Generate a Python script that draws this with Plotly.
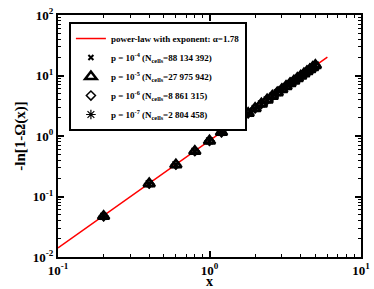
import plotly.graph_objects as go

# data
x_vals = [0.2, 0.4, 0.6, 0.8, 1.0, 1.2, 1.4, 1.6, 1.8, 2.0, 2.2, 2.4, 2.6, 2.8, 3.0,
          3.2, 3.4, 3.6, 3.8, 4.0, 4.2, 4.4, 4.6, 4.8, 5.0]
y_p4 = [0.047, 0.163, 0.335, 0.56, 0.83, 1.15, 1.51, 1.92, 2.37, 2.86, 3.39, 3.95, 4.56,
        5.20, 5.88, 6.60, 7.35, 8.13, 8.96, 9.81, 10.7, 11.6, 12.6, 13.6, 14.6]
y_p5 = [0.047, 0.163, 0.335, 0.56, 0.83, 1.15, 1.51, 1.92, 2.37, 2.86, 3.39, 3.95, 4.56,
        5.20, 5.88, 6.60, 7.35, 8.13, 8.96, 9.81, 10.7, 11.6, 12.6, 13.6, 14.7]
y_p6 = [0.047, 0.163, 0.335, 0.56, 0.83, 1.15, 1.51, 1.92, 2.37, 2.86, 3.39, 3.95, 4.56,
        5.20, 5.88, 6.60, 7.35, 8.13, 8.96, 9.81, 10.7, 11.7, 12.7, 13.7, 14.8]
y_p7 = [0.047, 0.163, 0.335, 0.56, 0.83, 1.15, 1.51, 1.92, 2.37, 2.86, 3.39, 3.95, 4.56,
        5.20, 5.88, 6.60, 7.35, 8.13, 8.96, 9.81, 10.7, 11.7, 12.7, 13.8, 14.9]
fit_x = [0.1, 6.0]
fit_y = [0.0141, 20.2]

legend_names = [
    "power-law with exponent: α=1.78",
    "p = 10<sup>-4</sup> (N<sub>cells</sub>=88 134 392)",
    "p = 10<sup>-5</sup> (N<sub>cells</sub>=27 975 942)",
    "p = 10<sup>-6</sup> (N<sub>cells</sub>=8 861 315)",
    "p = 10<sup>-7</sup> (N<sub>cells</sub>=2 804 458)",
]
x_tickvals = [0.1, 1, 10]
x_ticktext = ["10<sup>-1</sup>", "10<sup>0</sup>", "10<sup>1</sup>"]
y_tickvals = [0.01, 0.1, 1, 10, 100]
y_ticktext = ["10<sup>-2</sup>", "10<sup>-1</sup>", "10<sup>0</sup>", "10<sup>1</sup>", "10<sup>2</sup>"]

FONT = "Liberation Serif"

fig = go.Figure()
fig.add_trace(go.Scatter(x=fit_x, y=fit_y, mode="lines", name=legend_names[0],
                         line=dict(color="red", width=1.5)))
fig.add_trace(go.Scatter(x=x_vals, y=y_p4, mode="markers", name=legend_names[1],
                         marker=dict(symbol="x-thin", size=5, color="black",
                                     line=dict(color="black", width=2))))
fig.add_trace(go.Scatter(x=x_vals, y=y_p5, mode="markers", name=legend_names[2],
                         marker=dict(symbol="triangle-up-open", size=10, color="black",
                                     line=dict(color="black", width=2.5))))
fig.add_trace(go.Scatter(x=x_vals, y=y_p6, mode="markers", name=legend_names[3],
                         marker=dict(symbol="diamond-open", size=7, color="black",
                                     line=dict(color="black", width=1.5))))
fig.add_trace(go.Scatter(x=x_vals, y=y_p7, mode="markers", name=legend_names[4],
                         marker=dict(symbol="asterisk-open", size=8, color="black",
                                     line=dict(color="black", width=1.2))))

minor_x = [0.2, 0.3, 0.4, 0.5, 0.6, 0.7, 0.8, 0.9, 2, 3, 4, 5, 6, 7, 8, 9]
minor_y = []
for d in [0.01, 0.1, 1, 10]:
    minor_y += [d * k for k in range(2, 10)]

axis_common = dict(
    type="log", showgrid=False, zeroline=False, showline=True, linecolor="black",
    linewidth=2, mirror="allticks", ticks="inside", ticklen=6, tickwidth=1.5,
    tickcolor="black", tickfont=dict(family=FONT, size=13, color="black", weight="bold"),
    tickmode="array", automargin=False,
)
fig.update_xaxes(**axis_common, range=[-1, 1], tickvals=x_tickvals, ticktext=x_ticktext,
                 minor=dict(tickmode="array", tickvals=minor_x, ticks="inside", ticklen=3,
                            tickwidth=1.2, tickcolor="black", showgrid=False),
                 title=dict(text="x", font=dict(family=FONT, size=14, color="black", weight="bold"),
                            standoff=0))
fig.update_yaxes(**axis_common, range=[-2, 2], tickvals=y_tickvals, ticktext=y_ticktext,
                 minor=dict(tickmode="array", tickvals=minor_y, ticks="inside", ticklen=3,
                            tickwidth=1.2, tickcolor="black", showgrid=False),
                 title=dict(text="-ln[1-Ω(x)]", font=dict(family=FONT, size=15, color="black", weight="bold"),
                            standoff=4))

fig.update_layout(
    width=374, height=289,
    margin=dict(l=58, r=13, t=15, b=32),
    paper_bgcolor="white", plot_bgcolor="white",
    showlegend=True,
    legend=dict(x=0.036, y=0.971, xanchor="left", yanchor="top",
                bordercolor="black", borderwidth=2, bgcolor="white",
                font=dict(family=FONT, size=9, color="black", weight="bold"),
                itemwidth=30, tracegroupgap=0),
)

fig.write_html(
    "out.html",
    config={"displayModeBar": False},
    post_script="document.body.style.margin='0px';document.body.style.overflow='hidden';",
)
